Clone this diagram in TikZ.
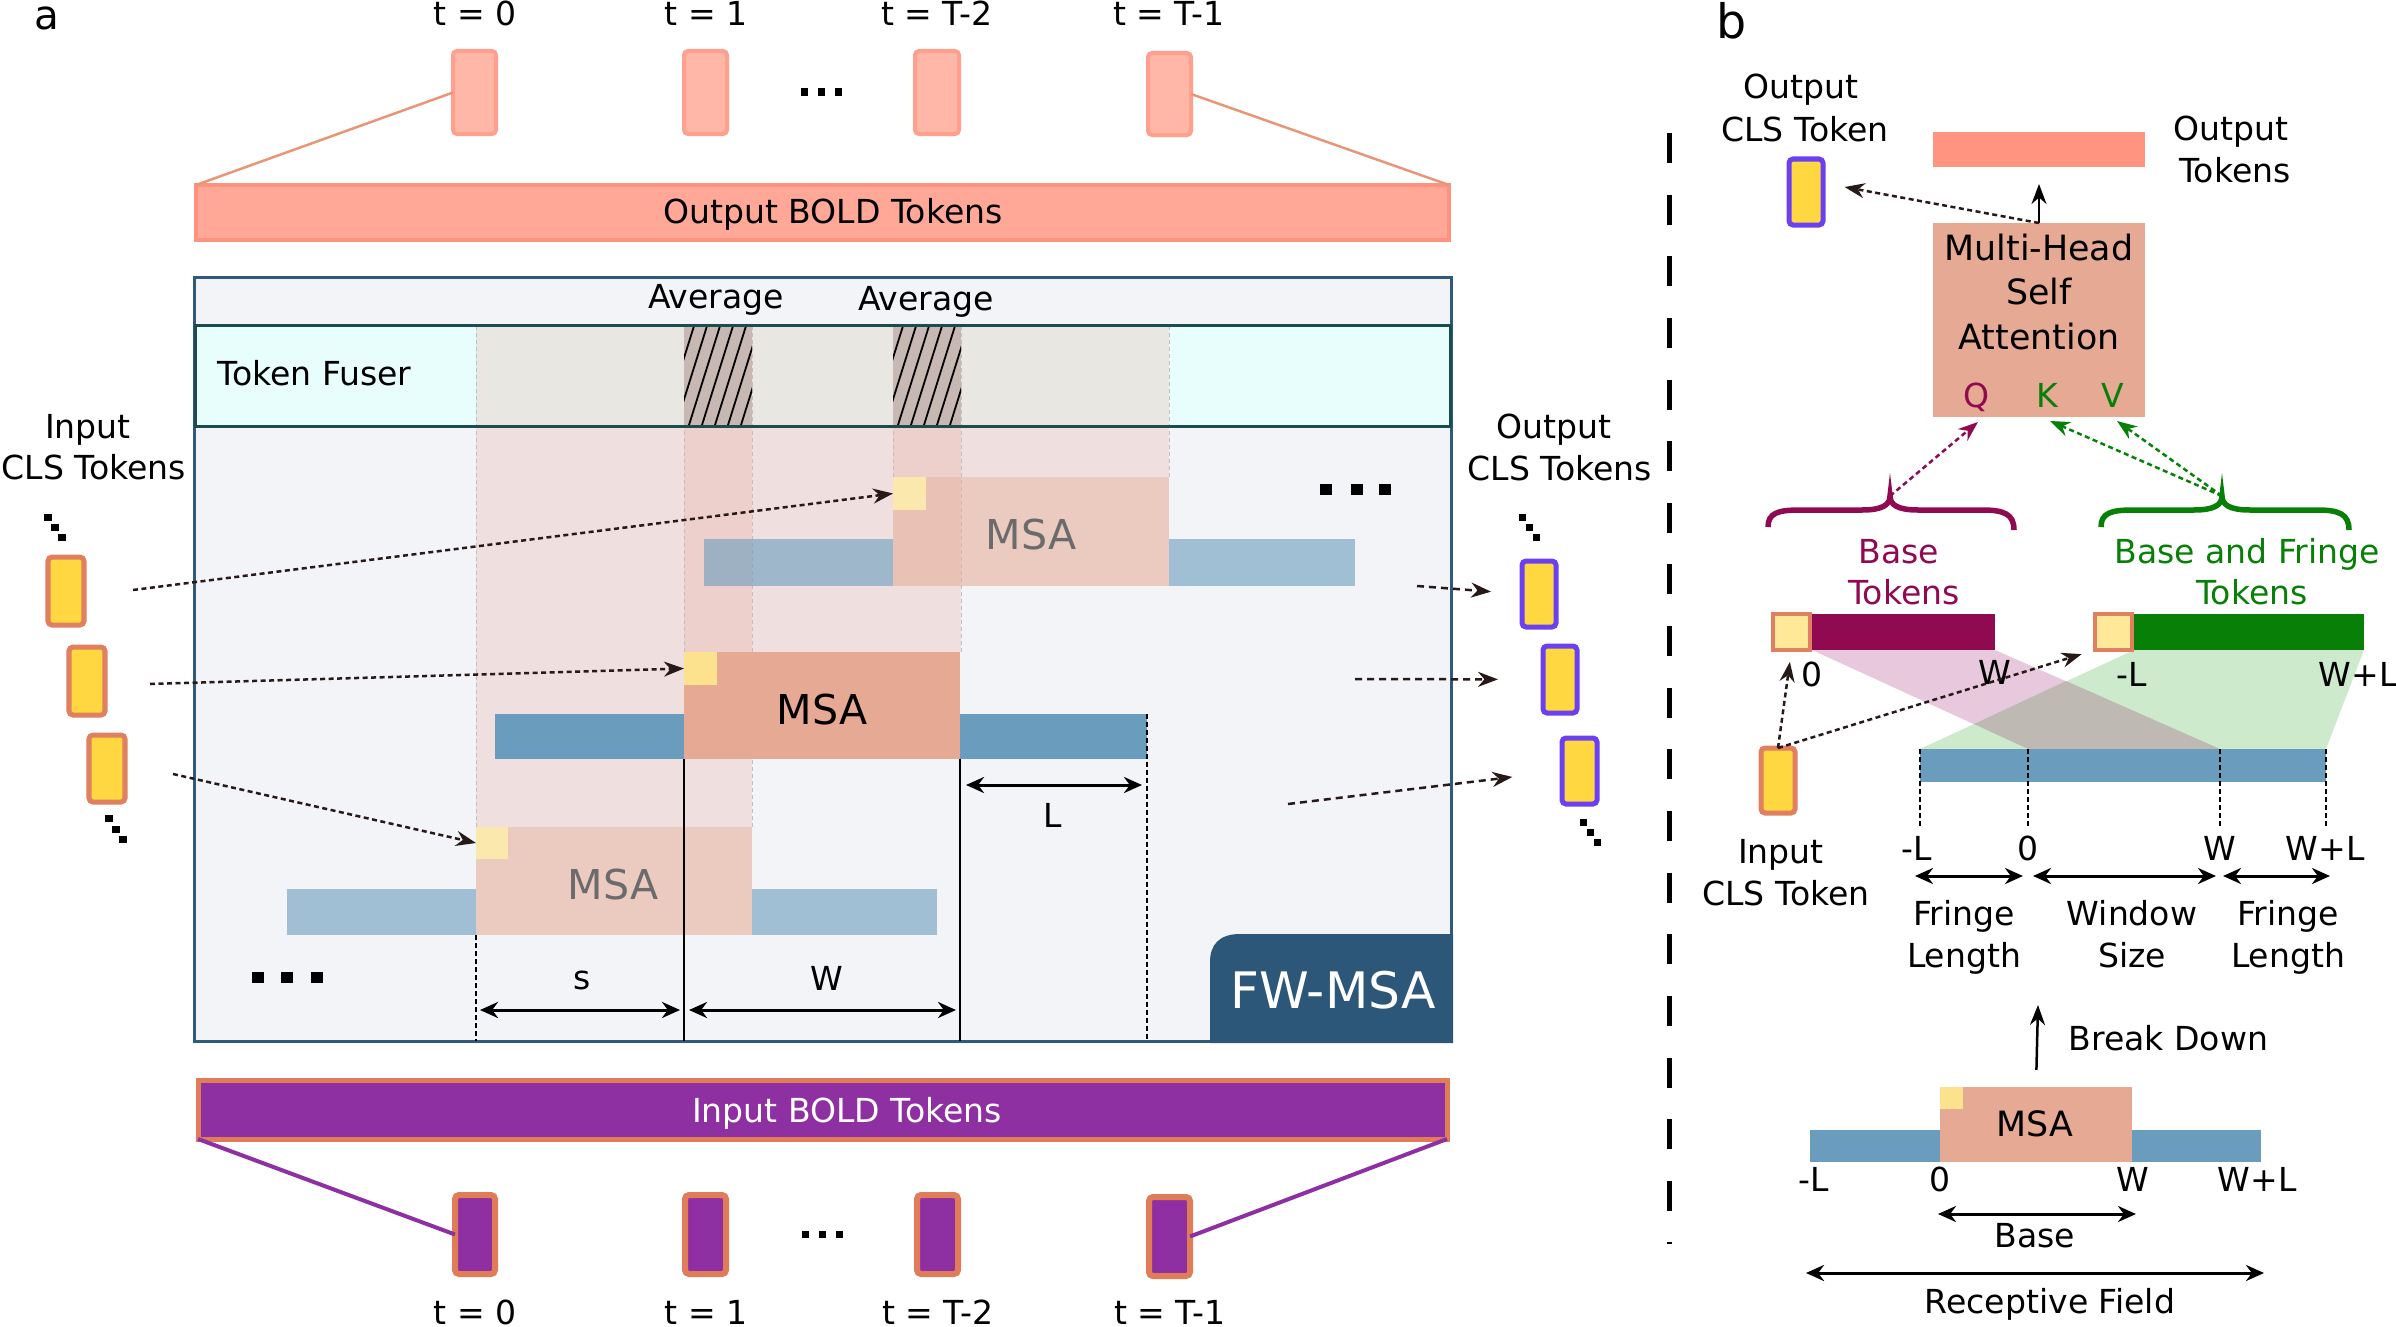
\documentclass[tikz,border=0pt]{standalone}
\usepackage{fontspec}
\setmainfont{DejaVu Sans}
\usetikzlibrary{arrows.meta,fit,calc}
\definecolor{tokTop}{RGB}{255,183,168}
\definecolor{tokTopB}{RGB}{255,160,142}
\definecolor{obarF}{RGB}{255,168,152}
\definecolor{obarB}{RGB}{255,146,126}
\definecolor{conLine}{RGB}{232,150,120}
\definecolor{boxBg}{RGB}{242,244,247}
\definecolor{boxB}{RGB}{47,90,126}
\definecolor{fuserF}{RGB}{232,254,253}
\definecolor{fuserB}{RGB}{27,77,79}
\definecolor{colPink}{RGB}{233,160,144}
\definecolor{hatchF}{RGB}{200,184,179}
\definecolor{msaF}{RGB}{230,169,148}
\definecolor{barBlue}{RGB}{106,157,189}
\definecolor{ySq}{RGB}{252,226,140}
\definecolor{ySqFade}{RGB}{250,232,172}
\definecolor{fwB}{RGB}{45,87,121}
\definecolor{purp}{RGB}{142,48,162}
\definecolor{orB}{RGB}{224,125,88}
\definecolor{clsY}{RGB}{255,215,64}
\definecolor{clsO}{RGB}{224,128,96}
\definecolor{clsV}{RGB}{107,64,240}
\definecolor{otokF}{RGB}{255,149,128}
\definecolor{bPur}{RGB}{144,10,82}
\definecolor{bGrn}{RGB}{8,128,8}
\definecolor{shP}{RGB}{232,200,220}
\definecolor{shG}{RGB}{205,234,204}
\definecolor{shPG}{RGB}{190,185,178}
\definecolor{lySq}{RGB}{255,233,153}
\definecolor{dotC}{RGB}{40,25,25}
\newcommand{\fsN}{\fontsize{9.4pt}{11.4pt}\selectfont}
\newcommand{\fsM}{\fontsize{9.9pt}{12pt}\selectfont}
\newcommand{\fsBig}{\fontsize{11.7pt}{14pt}\selectfont}
\newcommand{\fsFW}{\fontsize{14.3pt}{17pt}\selectfont}
\newcommand{\fsLab}{\fontsize{13.5pt}{16pt}\selectfont}
\newcommand{\fsLabA}{\fontsize{11.5pt}{14pt}\selectfont}
\begin{document}
\begin{tikzpicture}[x=0.01cm,y=-0.01cm,
  lbl/.style={font=\fsN, inner sep=0, anchor=base},
  plainbox/.style={inner sep=0, outer sep=0},
  dotsq/.style={fill=black, inner sep=0, minimum width=0.07cm, minimum height=0.07cm},
  bigdot/.style={fill=black, inner sep=0, minimum width=0.12cm, minimum height=0.11cm},
  dotarrow/.style={line width=0.025cm, dash pattern=on 0.05cm off 0.035cm, draw=dotC, -{Stealth[length=0.2cm,width=0.15cm]}},
  dimarrow/.style={line width=0.03cm, {Stealth[length=0.18cm,width=0.16cm]}-{Stealth[length=0.18cm,width=0.16cm]}},
  clsin/.style={plainbox, fill=clsY, draw=clsO, line width=0.05cm, rounded corners=0.04cm},
  clsout/.style={plainbox, fill=clsY, draw=clsV, line width=0.05cm, rounded corners=0.04cm},
  ttok/.style={plainbox, fill=tokTop, draw=tokTopB, line width=0.04cm, rounded corners=0.04cm},
  btok/.style={plainbox, fill=purp, draw=orB, line width=0.06cm, rounded corners=0.04cm},
  vdash/.style={line width=0.012cm, dash pattern=on 0.045cm off 0.035cm},
  coledge/.style={black!25, line width=0.008cm, dash pattern=on 0.04cm off 0.03cm},
]
\useasboundingbox (0,0) rectangle (2396,1327);

% ================= PANEL A =================
\node[lbl, font=\fsLabA] (labA) at (47,29) {a};

% top tokens
\node[lbl] (tt0l) at (475,25) {t = 0};
\node[lbl] (tt1l) at (706,25) {t = 1};
\node[lbl] (tt2l) at (937,25) {t = T-2};
\node[lbl] (tt3l) at (1169,25) {t = T-1};
\node[ttok, fit={(453,51)(496,134)}] (tt0) {};
\node[ttok, fit={(684,51)(727,134)}] (tt1) {};
\node[ttok, fit={(915,51)(959,134)}] (tt2) {};
\node[ttok, fit={(1148,53)(1191,135)}] (tt3) {};
\node[dotsq] (td1) at (804,92) {};
\node[dotsq] (td2) at (821,92) {};
\node[dotsq] (td3) at (838,92) {};

% output bold bar
\node[plainbox, fill=obarF, draw=obarB, line width=0.04cm, fit={(196,185)(1449,240)}] (obar) {};
\node[lbl] (obarl) at (833,223) {Output BOLD Tokens};
\draw[conLine, line width=0.025cm] (tt0.west) -- (obar.north west);
\draw[conLine, line width=0.025cm] (tt3.east) -- (obar.north east);

% main box
\node[plainbox, fill=boxBg, draw=boxB, line width=0.03cm, fit={(194,277)(1451,1041)}] (fwbox) {};
\node[plainbox, fill=fuserF, draw=fuserB, line width=0.03cm, fit={(195,325)(1450,426)}] (fuser) {};

% columns
\fill[colPink, opacity=0.24] (476,326) rectangle (752,827);
\fill[colPink, opacity=0.24] (684,326) rectangle (961,652);
\fill[colPink, opacity=0.24] (893,326) rectangle (1169,477);
\draw[coledge] (476,326) -- (476,827);
\draw[coledge] (752,326) -- (752,827);
\draw[coledge] (684,326) -- (684,652);
\draw[coledge] (961,326) -- (961,652);
\draw[coledge] (893,326) -- (893,477);
\draw[coledge] (1169,326) -- (1169,477);

% hatched overlaps
\begin{scope}
\clip (684,326) rectangle (752,425);
\fill[hatchF] (684,326) rectangle (752,425);
\foreach \i in {0,...,9} \draw[line width=0.018cm] ({650+\i*13},425) -- ({681+\i*13},326);
\end{scope}
\begin{scope}
\clip (893,326) rectangle (961,425);
\fill[hatchF] (893,326) rectangle (961,425);
\foreach \i in {0,...,9} \draw[line width=0.018cm] ({859+\i*13},425) -- ({890+\i*13},326);
\end{scope}
\draw[fuserB, line width=0.03cm] (fuser.north west) rectangle (fuser.south east);

\node[lbl] (avg1) at (716,308) {Average};
\node[lbl] (avg2) at (926,310) {Average};
\node[lbl, anchor=base west] (tfl) at (217,385) {Token Fuser};

% top MSA (faded)
\node[plainbox, fill=barBlue, opacity=0.6, fit={(704,539)(893,586)}] (bar1l) {};
\node[plainbox, fill=barBlue, opacity=0.6, fit={(1169,539)(1355,586)}] (bar1r) {};
\node[plainbox, fill=msaF, opacity=0.55, fit={(893,477)(1169,586)}] (msa1) {};
\node[plainbox, fill=ySqFade, fit={(893,477)(926,510)}] (y1) {};
\node[lbl, font=\fsBig, text=black!58] (msa1t) at (1031,549) {MSA};

% bottom MSA (faded)
\node[plainbox, fill=barBlue, opacity=0.6, fit={(287,889)(476,935)}] (bar3l) {};
\node[plainbox, fill=barBlue, opacity=0.6, fit={(752,889)(937,935)}] (bar3r) {};
\node[plainbox, fill=msaF, opacity=0.55, fit={(476,827)(752,935)}] (msa3) {};
\node[plainbox, fill=ySqFade, fit={(476,827)(508,859)}] (y3) {};
\node[lbl, font=\fsBig, text=black!58] (msa3t) at (613,899) {MSA};

% middle MSA (current)
\node[plainbox, fill=barBlue, fit={(495,714)(1147,759)}] (bar2) {};
\node[plainbox, fill=msaF, fit={(684,652)(960,759)}] (msa2) {};
\node[plainbox, fill=ySq, fit={(684,652)(717,685)}] (y2) {};
\node[lbl, font=\fsBig] (msa2t) at (822,724) {MSA};

% guide lines
\draw[vdash] (msa3.south west) -- (msa3.south west |- fwbox.south);
\draw[line width=0.02cm] (msa2.south west) -- (msa2.south west |- fwbox.south);
\draw[line width=0.02cm] (msa2.south east) -- (msa2.south east |- fwbox.south);
\draw[vdash] (bar2.north east) -- (bar2.north east |- fwbox.south);

% dimension arrows
\coordinate (sA) at (480,1010);
\coordinate (sB) at (680,1010);
\coordinate (wA) at (689,1010);
\coordinate (wB) at (956,1010);
\coordinate (lA) at (966,785);
\coordinate (lB) at (1142,785);
\draw[dimarrow] (sA) -- (sB);
\draw[dimarrow] (wA) -- (wB);
\draw[dimarrow] (lA) -- (lB);
\node[lbl] (sl) at (582,989) {s};
\node[lbl] (wl) at (827,990) {W};
\node[lbl] (ll) at (1053,827) {L};

% big dots
\node[bigdot] (bd1) at (1326,489) {};
\node[bigdot] (bd2) at (1357,489) {};
\node[bigdot] (bd3) at (1385,489) {};
\node[bigdot] (bd4) at (258,977) {};
\node[bigdot] (bd5) at (287,977) {};
\node[bigdot] (bd6) at (317,977) {};

% FW-MSA label
\fill[fwB] (1210,1043) -- (1210,962) .. controls (1210,944) and (1220,934) .. (1240,934) -- (1453,934) -- (1453,1043) -- cycle;
\node[lbl, font=\fsFW, text=white] (fwl) at (1333,1008) {FW-MSA};

% input bold bar
\node[plainbox, fill=purp, draw=orB, line width=0.05cm, fit={(198,1080)(1447,1139)}] (ibar) {};
\node[lbl, text=white] (ibarl) at (847,1122) {Input BOLD Tokens};
\node[btok, fit={(455,1195)(495,1274)}] (bt0) {};
\node[btok, fit={(685,1195)(726,1274)}] (bt1) {};
\node[btok, fit={(917,1195)(958,1274)}] (bt2) {};
\node[btok, fit={(1149,1197)(1190,1276)}] (bt3) {};
\draw[purp, line width=0.04cm] (ibar.south west) -- (bt0.west);
\draw[purp, line width=0.04cm] (ibar.south east) -- (bt3.east);
\node[dotsq] (bdd1) at (805,1234) {};
\node[dotsq] (bdd2) at (822,1234) {};
\node[dotsq] (bdd3) at (839,1234) {};
\node[lbl] (bt0l) at (475,1324) {t = 0};
\node[lbl] (bt1l) at (706,1324) {t = 1};
\node[lbl] (bt2l) at (938,1324) {t = T-2};
\node[lbl] (bt3l) at (1170,1324) {t = T-1};

% input CLS tokens
\node[lbl] (inl1) at (88,438) {Input};
\node[lbl] (inl2) at (94,479) {CLS Tokens};
\node[dotsq] (ld1) at (48,517) {};
\node[dotsq] (ld2) at (55,527) {};
\node[dotsq] (ld3) at (62,537) {};
\node[clsin, fit={(48,557)(84,625)}] (in1) {};
\node[clsin, fit={(69,647)(105,715)}] (in2) {};
\node[clsin, fit={(89,735)(125,802)}] (in3) {};
\node[dotsq] (ld4) at (109,818) {};
\node[dotsq] (ld5) at (116,829) {};
\node[dotsq] (ld6) at (123,839) {};

\coordinate (s1) at (133,590);
\coordinate (s2) at (150,684);
\coordinate (s3) at (173,774);
\draw[dotarrow] (s1) -- (y1.west);
\draw[dotarrow] (s2) -- (y2.west);
\draw[dotarrow] (s3) -- (y3.west);

% output CLS tokens
\node[lbl] (outl1) at (1554,438) {Output};
\node[lbl] (outl2) at (1560,480) {CLS Tokens};
\node[dotsq] (rd1) at (1522,517) {};
\node[dotsq] (rd2) at (1529,527) {};
\node[dotsq] (rd3) at (1536,537) {};
\node[clsout, fit={(1522,561)(1556,627)}] (out1) {};
\node[clsout, fit={(1543,646)(1577,713)}] (out2) {};
\node[clsout, fit={(1562,738)(1597,804)}] (out3) {};
\node[dotsq] (rd4) at (1583,822) {};
\node[dotsq] (rd5) at (1590,832) {};
\node[dotsq] (rd6) at (1597,842) {};

\coordinate (e1) at (1417,586);
\coordinate (e2) at (1355,679);
\coordinate (e3) at (1288,804);
\draw[dotarrow, dash pattern=on 0.07cm off 0.05cm, shorten >=0.31cm] (e1) -- (out1.west);
\draw[dotarrow, dash pattern=on 0.07cm off 0.05cm, shorten >=0.45cm] (e2) -- (out2.west);
\draw[dotarrow, dash pattern=on 0.07cm off 0.05cm, shorten >=0.5cm] (e3) -- (out3.west);

% divider
\coordinate (divT) at (1669,133);
\coordinate (divB) at (1669,1244);
\draw[line width=0.05cm, dash pattern=on 0.3cm off 0.316cm] (divT) -- (divB);

% ================= PANEL B =================
\node[lbl, font=\fsLab] (labB) at (1732,38) {b};

\node[lbl] (ocl1) at (1801,98) {Output};
\node[lbl] (ocl2) at (1805,141) {CLS Token};
\node[clsout, fit={(1789,159)(1823,225)}] (ocls) {};

\node[plainbox, fill=otokF, fit={(1933,132)(2145,167)}] (otok) {};
\node[lbl] (otl1) at (2231,140) {Output};
\node[lbl] (otl2) at (2235,182) {Tokens};

\node[plainbox, fill=msaF, fit={(1933,223)(2145,417)}] (mhsa) {};
\node[lbl, font=\fsM] (mh1) at (2039,260) {Multi-Head};
\node[lbl, font=\fsM] (mh2) at (2039,304) {Self};
\node[lbl, font=\fsM] (mh3) at (2039,349) {Attention};
\node[lbl, text=bPur] (ql) at (1976,407) {Q};
\node[lbl, text=bGrn] (kl) at (2047,407) {K};
\node[lbl, text=bGrn] (vl) at (2113,407) {V};

\draw[line width=0.025cm, -{Stealth[length=0.2cm,width=0.15cm]}, shorten >=0.17cm] (mhsa.north) -- (otok.south);
\draw[dotarrow, shorten >=0.22cm] (mhsa.north) -- ([yshift=0.09cm]ocls.east);

% braces
\coordinate (bpt) at (1890,496);
\coordinate (bgt) at (2222,496);
\draw[bPur, line width=0.055cm] (1768,527) .. controls (1768,513) and (1778,510) .. (1800,510) -- (1862,510) .. controls (1882,510) and (1890,505) .. (bpt) .. controls (1890,505) and (1898,510) .. (1918,510) -- (1982,510) .. controls (2004,510) and (2014,514) .. (2014,530);
\draw[bGrn, line width=0.055cm] (2101,527) .. controls (2101,513) and (2111,510) .. (2133,510) -- (2194,510) .. controls (2214,510) and (2222,505) .. (bgt) .. controls (2222,505) and (2230,510) .. (2250,510) -- (2317,510) .. controls (2339,510) and (2349,514) .. (2349,530);
\coordinate (qin) at (1978,422);
\coordinate (kin) at (2050,421);
\coordinate (vin) at (2117,421);
\draw[dotarrow, draw=bPur] (bpt) -- (qin);
\draw[dotarrow, draw=bGrn] (bgt) -- (kin);
\draw[dotarrow, draw=bGrn] (bgt) -- (vin);

\node[lbl, text=bPur] (btl1) at (1899,563) {Base};
\node[lbl, text=bPur] (btl2) at (1904,604) {Tokens};
\node[lbl, text=bGrn] (gtl1) at (2247,563) {Base and Fringe};
\node[lbl, text=bGrn] (gtl2) at (2252,604) {Tokens};

% shading
\fill[shP] (1812,650) -- (1995,650) -- (2220,749) -- (2028,749) -- cycle;
\fill[shG] (2134,650) -- (2364,650) -- (2326,749) -- (1920,749) -- cycle;
\fill[shPG] (2066,681) -- (2220,749) -- (2028,749) -- (1974,724) -- cycle;

% token bars
\node[plainbox, fill=bPur, fit={(1812,614)(1995,650)}] (pbar) {};
\node[plainbox, fill=lySq, draw=clsO, line width=0.045cm, fit={(1773,614)(1810,650)}] (bsq) {};
\node[plainbox, fill=bGrn, fit={(2134,614)(2364,650)}] (gbar) {};
\node[plainbox, fill=lySq, draw=clsO, line width=0.045cm, fit={(2095,614)(2132,650)}] (gsq) {};
\node[lbl] (u0) at (1812,686) {0};
\node[lbl] (uW) at (1995,684) {W};
\node[lbl] (uL) at (2132,686) {-L};
\node[lbl] (uWL) at (2358,686) {W+L};

% blue bar with ticks
\node[plainbox, fill=barBlue, fit={(1920,749)(2326,782)}] (bbar) {};
\draw[vdash] (1920,749) -- (1920,827);
\draw[vdash] (2028,749) -- (2028,827);
\draw[vdash] (2220,749) -- (2220,827);
\draw[vdash] (2326,749) -- (2326,827);
\node[lbl] (m1) at (1917,860) {-L};
\node[lbl] (m2) at (2028,860) {0};
\node[lbl] (m3) at (2220,860) {W};
\node[lbl] (m4) at (2325,860) {W+L};
\coordinate (fa1) at (1915,876);
\coordinate (fa2) at (2023,876);
\coordinate (fb1) at (2033,876);
\coordinate (fb2) at (2216,876);
\coordinate (fc1) at (2223,876);
\coordinate (fc2) at (2330,876);
\draw[dimarrow] (fa1) -- (fa2);
\draw[dimarrow] (fb1) -- (fb2);
\draw[dimarrow] (fc1) -- (fc2);
\node[lbl] (fl1) at (1964,925) {Fringe};
\node[lbl] (fl2) at (1964,967) {Length};
\node[lbl] (ws1) at (2132,925) {Window};
\node[lbl] (ws2) at (2132,967) {Size};
\node[lbl] (fr1) at (2288,925) {Fringe};
\node[lbl] (fr2) at (2288,967) {Length};

% input CLS token (b)
\node[clsin, fit={(1761,748)(1795,813)}] (icls) {};
\node[lbl] (icl1) at (1781,863) {Input};
\node[lbl] (icl2) at (1786,905) {CLS Token};
\draw[dotarrow, shorten >=0.12cm] (icls.north) -- (bsq.south);
\draw[dotarrow, shorten >=0.14cm] (icls.north) -- (gsq.south west);

% break down
\node[plainbox, fill=barBlue, fit={(1810,1130)(2261,1162)}] (bbar2) {};
\node[plainbox, fill=msaF, fit={(1940,1087)(2132,1162)}] (msab) {};
\node[plainbox, fill=ySq, fit={(1940,1087)(1963,1109)}] (yb) {};
\node[lbl, font=\fsM] (msabt) at (2035,1136) {MSA};
\coordinate (bdtop) at (2038,1005);
\draw[line width=0.025cm, -{Stealth[length=0.2cm,width=0.15cm]}, shorten <=0.17cm] (msab.north) -- (bdtop);
\node[lbl, anchor=base west] (bdl) at (2068,1050) {Break Down};
\node[lbl] (n1) at (1814,1191) {-L};
\node[lbl] (n2) at (1940,1191) {0};
\node[lbl] (n3) at (2133,1191) {W};
\node[lbl] (n4) at (2257,1191) {W+L};
\coordinate (ba1) at (1938,1214);
\coordinate (ba2) at (2136,1214);
\draw[dimarrow] (ba1) -- (ba2);
\node[lbl] (basel) at (2035,1247) {Base};
\coordinate (ra1) at (1806,1273);
\coordinate (ra2) at (2264,1273);
\draw[dimarrow] (ra1) -- (ra2);
\node[lbl] (rfl) at (2050,1313) {Receptive Field};
\end{tikzpicture}
\end{document}
